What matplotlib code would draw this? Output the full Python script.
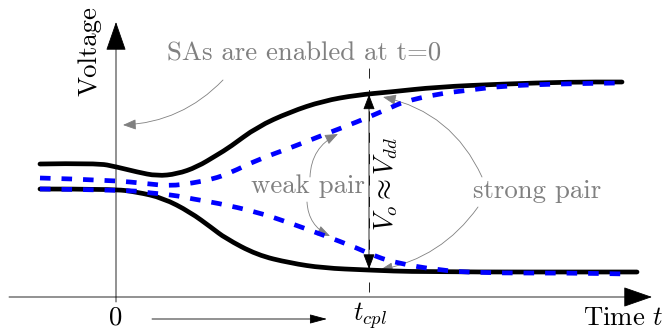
import matplotlib
matplotlib.use("Agg")
import matplotlib.pyplot as plt
from matplotlib.path import Path
from matplotlib.patches import PathPatch
import numpy as np

plt.rcParams['font.family'] = 'cmr10'
plt.rcParams['mathtext.fontset'] = 'cm'
plt.rcParams['axes.unicode_minus'] = False
plt.rcParams['lines.scale_dashes'] = False

# bit-line voltages of the two sense-amplifier pairs (time in a.u., t=0 at enable)
strong_hi_t = [-1.52, -0.38, 0.02, 0.42, 0.82, 1.22, 1.62, 2.02, 2.28, 2.82, 3.48, 4.14, 4.82, 5.48, 6.42, 7.74, 9.08, 10.12]
strong_hi_v = [2.66, 2.68, 2.60, 2.50, 2.42, 2.46, 2.60, 2.84, 3.00, 3.40, 3.70, 3.92, 4.04, 4.10, 4.20, 4.26, 4.30, 4.30]
strong_lo_t = [-1.52, -0.06, 0.42, 0.94, 1.48, 1.92, 2.18, 2.82, 3.48, 4.14, 5.02, 6.08, 10.42]
strong_lo_v = [2.16, 2.16, 2.10, 1.98, 1.70, 1.38, 1.18, 0.84, 0.68, 0.58, 0.54, 0.50, 0.50]

weak_hi_t = [-1.52, -0.12, 0.68, 1.08, 1.54, 1.94, 2.28, 2.82, 3.48, 4.14, 4.82, 5.48, 5.74, 6.42, 7.08, 7.74, 8.74, 10.04]
weak_hi_v = [2.38, 2.34, 2.26, 2.22, 2.28, 2.36, 2.48, 2.74, 2.98, 3.24, 3.50, 3.78, 3.90, 4.06, 4.14, 4.22, 4.26, 4.28]
weak_lo_t = [-1.52, 0.28, 0.68, 1.14, 1.54, 2.02, 2.82, 3.48, 4.14, 4.82, 5.22, 5.62, 6.42, 7.28, 9.08, 10.24]
weak_lo_v = [2.16, 2.14, 2.08, 2.04, 1.96, 1.88, 1.70, 1.48, 1.24, 0.98, 0.80, 0.68, 0.54, 0.48, 0.48, 0.46]

t_cpl = 5.06
v_at_cpl = (4.05, 0.56)   # ends of the V_o arrow

GRAY = '#808080'
FS = 19.3

fig = plt.figure(figsize=(6.65, 3.31), dpi=100)
ax = fig.add_axes([0, 0, 1, 1])
ax.set_xlim(-2.32, 10.98)
ax.set_ylim(-0.68, 5.94)
ax.axis('off')


def arrow(ax, tail, tip, color='k', lw=0.6, hl=9.0, hw=3.5, style='-|>', rad=0.0, z=3):
    ax.annotate('', xy=tip, xytext=tail,
                arrowprops=dict(arrowstyle=f'{style},head_length={hl},head_width={hw}',
                                mutation_scale=1, color=color, lw=lw,
                                shrinkA=0, shrinkB=0,
                                connectionstyle=f'arc3,rad={rad}'),
                zorder=z)


def smooth_curve(ax, t, v, **kw):
    # quadratic bezier through the midpoints, read points act as controls
    pts = np.column_stack([t, v])
    verts = [pts[0]]
    codes = [Path.MOVETO]
    for i in range(1, len(pts) - 1):
        verts += [pts[i], (pts[i] + pts[i + 1]) / 2]
        codes += [Path.CURVE3, Path.CURVE3]
    verts.append(pts[-1])
    codes.append(Path.LINETO)
    ax.add_patch(PathPatch(Path(verts, codes), fill=False, **kw))


# axes
arrow(ax, (-2.14, 0), (10.72, 0), hl=18.7, hw=6.5)
arrow(ax, (0, -0.1), (0, 5.5), hl=18.7, hw=6.5)

# coupling instant
ax.plot([t_cpl, t_cpl], [0.1, 4.58], color='k', lw=0.6,
        dashes=(7.2, 8.2), zorder=2)
arrow(ax, (t_cpl, v_at_cpl[1]), (t_cpl, v_at_cpl[0]), style='<|-|>', hl=9.4, hw=3.6, z=6)

# curves
for t, v in [(strong_hi_t, strong_hi_v), (strong_lo_t, strong_lo_v)]:
    smooth_curve(ax, t, v, edgecolor='k', lw=3.4, capstyle='round', joinstyle='round', zorder=4)
for t, v in [(weak_hi_t, weak_hi_v), (weak_lo_t, weak_lo_v)]:
    smooth_curve(ax, t, v, edgecolor='#0000ff', lw=3.4, linestyle=(0, (7.6, 7.9)),
                 capstyle='butt', joinstyle='round', zorder=5)

# labels
ax.text(-0.52, 4.92, 'Voltage', rotation=90, ha='center', va='center', fontsize=FS)
ax.text(10.96, -0.42, 'Time $t$', ha='right', va='center', fontsize=FS)
ax.text(0, -0.42, '0', ha='center', va='center', fontsize=FS)
ax.text(5.08, -0.38, '$t_{cpl}$', ha='center', va='center', fontsize=FS)
arrow(ax, (0.72, -0.44), (4.22, -0.44), hl=10.8, hw=2.9)
ax.text(5.40, 2.26, r'$V_o \approx V_{dd}$', rotation=90, ha='center', va='center', fontsize=FS)

# annotations
ax.text(3.76, 4.86, 'SAs are enabled at t=0', ha='center', va='center', fontsize=FS, color=GRAY)
arrow(ax, (2.14, 4.34), (0.14, 3.44), color=GRAY, hl=8, hw=3.2, rad=-0.2)

ax.text(3.84, 2.22, 'weak pair', ha='center', va='center', fontsize=FS, color=GRAY)
arrow(ax, (3.88, 2.40), (4.44, 3.26), color=GRAY, hl=8, hw=3.2, rad=-0.3)
arrow(ax, (3.82, 1.90), (4.28, 1.22), color=GRAY, hl=8, hw=3.2, rad=0.3)

ax.text(8.42, 2.12, 'strong pair', ha='center', va='center', fontsize=FS, color=GRAY)
arrow(ax, (7.32, 2.40), (5.34, 4.00), color=GRAY, hl=8, hw=3.2, rad=0.25)
arrow(ax, (7.24, 1.80), (5.28, 0.54), color=GRAY, hl=8, hw=3.2, rad=-0.2)

fig.savefig('out.png', dpi=100)
